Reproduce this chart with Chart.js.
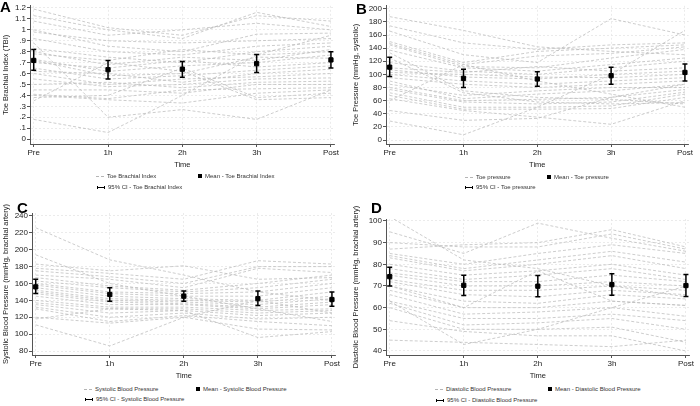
<!DOCTYPE html>
<html>
<head>
<meta charset="utf-8">
<script src="https://cdn.jsdelivr.net/npm/chart.js@4.4.1/dist/chart.umd.min.js"></script>
<style>
body { margin: 0; background: #fff; font-family: "Liberation Sans", Arial, sans-serif; }
#wrap { position: relative; width: 700px; height: 406px; overflow: hidden; }
canvas { position: absolute; }
.tag { position: absolute; font-weight: bold; font-size: 15px; color: #000; line-height: 1; }
.lg { position: absolute; font-size: 6px; color: #333; line-height: 8px; height: 8px; white-space: nowrap; }
.sw-line { display: inline-block; width: 8px; border-top: 1px dashed #b5b5b5; vertical-align: middle; margin-right: 3px; }
.sw-mean { display: inline-block; width: 4px; height: 4px; background: #000; vertical-align: middle; margin-right: 3px; }
.sw-ci { display: inline-block; width: 6px; height: 3px; border-left: 1px solid #000; border-right: 1px solid #000; position: relative; vertical-align: middle; margin-right: 3px; }
.sw-ci:after { content: ''; position: absolute; left: 0; right: 0; top: 1px; border-top: 1px solid #000; }
</style>
</head>
<body>
<div id="wrap">
  <canvas id="chartA" width="340" height="170" style="left:0;top:0"></canvas>
  <canvas id="chartB" width="344" height="170" style="left:350px;top:0"></canvas>
  <canvas id="chartC" width="341" height="181" style="left:0;top:200px"></canvas>
  <canvas id="chartD" width="345" height="181" style="left:350px;top:200px"></canvas>

  <div class="tag" style="left:0;top:-1px">A</div>
  <div class="tag" style="left:356px;top:1px">B</div>
  <div class="tag" style="left:17px;top:200px">C</div>
  <div class="tag" style="left:371px;top:200px">D</div>

  <div class="lg" style="left:96px;top:172px"><span class="sw-line"></span>Toe Brachial Index</div>
  <div class="lg" style="left:198px;top:172px"><span class="sw-mean"></span>Mean - Toe Brachial Index</div>
  <div class="lg" style="left:97px;top:183px"><span class="sw-ci"></span>95% CI - Toe Brachial Index</div>

  <div class="lg" style="left:465px;top:173px"><span class="sw-line"></span>Toe pressure</div>
  <div class="lg" style="left:547px;top:173px"><span class="sw-mean"></span>Mean - Toe pressure</div>
  <div class="lg" style="left:465px;top:183px"><span class="sw-ci"></span>95% CI - Toe pressure</div>

  <div class="lg" style="left:84px;top:385px"><span class="sw-line"></span>Systolic Blood Pressure</div>
  <div class="lg" style="left:196px;top:385px"><span class="sw-mean"></span>Mean - Systolic Blood Pressure</div>
  <div class="lg" style="left:85px;top:395px"><span class="sw-ci"></span>95% CI - Systolic Blood Pressure</div>

  <div class="lg" style="left:435px;top:385px"><span class="sw-line"></span>Diastolic Blood Pressure</div>
  <div class="lg" style="left:548px;top:385px"><span class="sw-mean"></span>Mean - Diastolic Blood Pressure</div>
  <div class="lg" style="left:436px;top:396px"><span class="sw-ci"></span>95% CI - Diastolic Blood Pressure</div>
</div>

<script>
var timeLabels = ['Pre', '1h', '2h', '3h', 'Post'];

// A - toe brachial index, one row per subject (Pre, 1h, 2h, 3h, Post)
var tbiSubjects = [
    [1.19, 1.02, 0.95, 1.13, 1.08],
    [1.13, 1.00, 0.92, 1.16, 1.03],
    [1.08, 0.95, 1.00, 1.06, 1.00],
    [1.00, 0.85, 0.80, 0.96, 0.97],
    [0.98, 0.90, 0.88, 0.90, 0.92],
    [0.92, 0.80, 0.77, 0.85, 0.88],
    [0.83, 0.75, 0.70, 0.80, 0.85],
    [0.80, 0.68, 0.75, 0.72, 0.82],
    [0.78, 0.72, 0.82, 0.77, 0.80],
    [0.73, 0.62, 0.67, 0.70, 0.77],
    [0.72, 0.58, 0.60, 0.75, 0.74],
    [0.70, 0.65, 0.72, 0.66, 0.70],
    [0.65, 0.55, 0.58, 0.63, 0.67],
    [0.62, 0.60, 0.52, 0.60, 0.64],
    [0.60, 0.50, 0.55, 0.57, 0.60],
    [0.55, 0.48, 0.50, 0.55, 0.56],
    [0.50, 0.52, 0.47, 0.52, 0.53],
    [0.45, 0.45, 0.42, 0.50, 0.50],
    [0.41, 0.37, 0.45, 0.46, 0.47],
    [0.40, 0.36, 0.33, 0.42, 0.45],
    [0.38, 0.40, 0.65, 0.38, 0.42],
    [0.35, 0.70, 0.62, 0.36, 0.38],
    [0.18, 0.06, 0.40, 0.77, 0.95],
    [0.88, 0.20, 0.27, 0.18, 0.45]
];
var tbiMean = [0.72, 0.635, 0.64, 0.69, 0.725];
var tbiLow = [0.63, 0.55, 0.565, 0.61, 0.65];
var tbiHigh = [0.82, 0.72, 0.71, 0.775, 0.80];
var tbiTicks = [0, 0.1, 0.2, 0.3, 0.4, 0.5, 0.6, 0.7, 0.8, 0.9, 1, 1.1, 1.2];
var tbiTickLabels = ['0', '.1', '.2', '.3', '.4', '.5', '.6', '.7', '.8', '.9', '1', '1.1', '1.2'];

// B - toe pressure
var toeSubjects = [
    [188, 167, 142, 135, 130],
    [174, 148, 138, 145, 148],
    [166, 130, 118, 185, 160],
    [150, 118, 135, 140, 145],
    [147, 115, 128, 132, 142],
    [145, 112, 110, 125, 138],
    [137, 110, 105, 115, 125],
    [133, 75, 65, 62, 55],
    [125, 72, 58, 55, 57],
    [118, 105, 100, 110, 120],
    [110, 103, 112, 105, 110],
    [107, 96, 93, 100, 105],
    [103, 100, 96, 95, 100],
    [100, 90, 85, 90, 95],
    [95, 85, 80, 85, 90],
    [90, 63, 70, 75, 85],
    [85, 68, 75, 80, 80],
    [80, 60, 62, 65, 77],
    [77, 58, 55, 58, 73],
    [72, 50, 50, 52, 70],
    [68, 47, 47, 48, 65],
    [63, 45, 35, 24, 60],
    [60, 115, 90, 70, 50],
    [29, 8, 50, 100, 167],
    [45, 30, 33, 65, 85]
];
var toeMean = [111, 94, 93, 98, 103];
var toeLow = [97, 80, 82, 85, 90];
var toeHigh = [126, 108, 104, 111, 116];
var toeTicks = [0, 20, 40, 60, 80, 100, 120, 140, 160, 180, 200];

// C - systolic blood pressure
var sbpSubjects = [
    [226, 188, 170, 150, 140],
    [194, 160, 145, 130, 115],
    [183, 175, 181, 165, 167],
    [178, 172, 165, 187, 183],
    [175, 168, 160, 180, 180],
    [170, 165, 155, 178, 173],
    [167, 157, 152, 160, 170],
    [163, 155, 150, 155, 165],
    [160, 150, 148, 150, 160],
    [158, 148, 145, 145, 155],
    [155, 145, 142, 140, 150],
    [152, 142, 140, 138, 145],
    [150, 140, 138, 135, 142],
    [148, 138, 136, 132, 138],
    [145, 135, 135, 130, 135],
    [140, 132, 132, 128, 130],
    [137, 130, 130, 125, 128],
    [135, 125, 128, 122, 125],
    [132, 120, 125, 118, 120],
    [130, 115, 122, 115, 110],
    [120, 113, 120, 106, 105],
    [118, 130, 128, 96, 103],
    [111, 86, 120, 140, 125]
];
var sbpMean = [156, 147, 145, 142, 141];
var sbpLow = [148, 139, 139, 134, 133];
var sbpHigh = [165, 155, 151, 151, 150];
var sbpTicks = [80, 100, 120, 140, 160, 180, 200, 220, 240];

// D - diastolic blood pressure
var dbpSubjects = [
    [102, 82, 78, 70, 65],
    [95, 85, 99, 92, 86],
    [90, 88, 88, 94, 87],
    [87, 89, 90, 96, 88],
    [85, 80, 85, 89, 85],
    [84, 78, 82, 86, 81],
    [83, 77, 80, 84, 78],
    [80, 75, 77, 80, 75],
    [78, 73, 75, 78, 73],
    [76, 72, 72, 75, 72],
    [75, 70, 70, 72, 70],
    [73, 68, 68, 70, 68],
    [72, 66, 65, 68, 66],
    [70, 63, 62, 66, 64],
    [68, 60, 60, 63, 61],
    [66, 57, 58, 60, 56],
    [63, 55, 55, 57, 54],
    [62, 52, 53, 55, 50],
    [60, 50, 50, 51, 44],
    [54, 49, 47, 47, 40],
    [45, 44, 43, 42, 45],
    [63, 43, 50, 60, 70],
    [70, 60, 77, 63, 61]
];
var dbpMean = [74.3, 70.3, 69.9, 70.6, 70.2];
var dbpLow = [70, 65.6, 65, 65.7, 65.1];
var dbpHigh = [78.6, 75, 74.8, 75.6, 75.3];
var dbpTicks = [40, 50, 60, 70, 80, 90, 100];

/**
 * Draws the 95% CI whiskers at each time point
 */
var errorBars = {
    id: 'errorBars',
    afterDatasetsDraw(chart, args, opts) {
        var ctx = chart.ctx;
        var xs = chart.scales.x, ys = chart.scales.y;
        ctx.save();
        ctx.strokeStyle = '#000';
        ctx.lineWidth = 1.5;
        opts.low.forEach((lo, i) => {
            var x = xs.getPixelForValue(i);
            var y1 = ys.getPixelForValue(lo);
            var y2 = ys.getPixelForValue(opts.high[i]);
            ctx.beginPath();
            ctx.moveTo(x, y1); ctx.lineTo(x, y2);
            ctx.moveTo(x - 2.5, y1); ctx.lineTo(x + 2.5, y1);
            ctx.moveTo(x - 2.5, y2); ctx.lineTo(x + 2.5, y2);
            ctx.stroke();
        });
        ctx.restore();
    }
};

function toPoints(row) {
    return row.map((v, i) => ({ x: i, y: v }));
}

function makePanel(p) {
    var datasets = p.subjects.map(row => ({
        data: toPoints(row),
        borderColor: '#bcbcbc',
        borderWidth: 0.75,
        borderDash: [3, 2],
        pointRadius: 0,
        order: 2
    }));
    datasets.push({
        data: toPoints(p.mean),
        showLine: false,
        pointStyle: 'rect',
        pointRadius: 3,
        pointBorderWidth: 1,
        backgroundColor: '#000',
        borderColor: '#000',
        order: 0
    });

    var grid = {
        color: '#e6e6e6',
        lineWidth: 0.8,
        tickColor: '#555',
        tickLength: 3,
        tickWidth: 1,
        tickBorderDash: []
    };
    var border = { color: '#555', width: 1, dash: [2, 2] };

    new Chart(document.getElementById(p.id), {
        type: 'line',
        data: { datasets: datasets },
        options: {
            responsive: false,
            animation: false,
            layout: { padding: { top: p.padTop, right: 3, left: 0, bottom: 0 } },
            plugins: {
                legend: { display: false },
                tooltip: { enabled: false },
                errorBars: { low: p.low, high: p.high }
            },
            scales: {
                x: {
                    type: 'linear',
                    min: -0.05,
                    max: 4.05,
                    afterBuildTicks: s => { s.ticks = timeLabels.map((t, i) => ({ value: i })); },
                    afterFit: s => { s.height = 26; },
                    ticks: {
                        callback: v => timeLabels[v],
                        font: { size: 8 }, color: '#222', padding: 1,
                        maxRotation: 0, autoSkip: false
                    },
                    grid: grid,
                    border: border,
                    title: { display: true, text: 'Time', font: { size: 7.5 }, color: '#222', padding: { top: 0, bottom: 1 } }
                },
                y: {
                    min: p.yMin,
                    max: p.yMax,
                    afterBuildTicks: s => { s.ticks = p.ticks.map(v => ({ value: v })); },
                    afterFit: s => { s.width = p.axisW; },
                    ticks: {
                        callback: (v, i) => p.tickLabels[i],
                        font: { size: 8 }, color: '#222', padding: 1, autoSkip: false
                    },
                    grid: grid,
                    border: border,
                    title: { display: true, text: p.yTitle, font: { size: 7.5 }, color: '#222', padding: { top: 1, bottom: 0 } }
                }
            }
        },
        plugins: [errorBars]
    });
}

makePanel({ id: 'chartA', subjects: tbiSubjects, mean: tbiMean, low: tbiLow, high: tbiHigh,
    yMin: -0.045, yMax: 1.22, ticks: tbiTicks, tickLabels: tbiTickLabels,
    yTitle: 'Toe Brachial Index (TBI)', axisW: 30, padTop: 3 });
makePanel({ id: 'chartB', subjects: toeSubjects, mean: toeMean, low: toeLow, high: toeHigh,
    yMin: -6, yMax: 204.5, ticks: toeTicks, tickLabels: toeTicks.map(String),
    yTitle: 'Toe Pressure (mmHg, systolic)', axisW: 36, padTop: 3 });
makePanel({ id: 'chartC', subjects: sbpSubjects, mean: sbpMean, low: sbpLow, high: sbpHigh,
    yMin: 75.3, yMax: 243.5, ticks: sbpTicks, tickLabels: sbpTicks.map(String),
    yTitle: 'Systolic Blood Pressure (mmHg, brachial artery)', axisW: 32, padTop: 13 });
makePanel({ id: 'chartD', subjects: dbpSubjects, mean: dbpMean, low: dbpLow, high: dbpHigh,
    yMin: 38.15, yMax: 100.9, ticks: dbpTicks, tickLabels: dbpTicks.map(String),
    yTitle: 'Diastolic Blood Pressure (mmHg, brachial artery)', axisW: 36, padTop: 19 });
</script>
</body>
</html>
